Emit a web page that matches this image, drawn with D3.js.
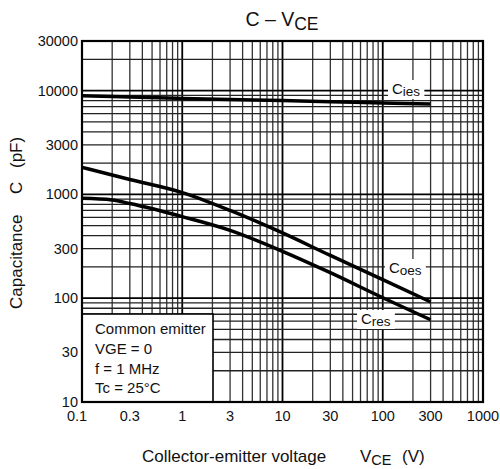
<!DOCTYPE html>
<html>
<head>
<meta charset="utf-8">
<script src="https://cdn.jsdelivr.net/npm/d3@7/dist/d3.min.js"></script>
<style>
  html, body { margin: 0; padding: 0; background: #fff; }
  svg { display: block; }
  text { font-family: "Liberation Sans", Arial, Helvetica, sans-serif; fill: #111; }
</style>
</head>
<body>
<svg id="chart" width="500" height="469"></svg>
<script>
// Collector-emitter voltage (V) at which capacitances were read
const vce  = [0.1, 0.2, 0.3, 1, 3, 10, 30, 100, 300];
// Input, output and reverse-transfer capacitance (pF)
const cies = [8900, 8750, 8650, 8400, 8200, 8000, 7800, 7600, 7400];
const coes = [1820, 1535, 1390, 1040, 700, 425, 258, 151, 92];
const cres = [915, 883, 815, 610, 450, 283, 176, 101, 62];

const xTicks = [0.1, 0.3, 1, 3, 10, 30, 100, 300, 1000];
const xTickLabels = ["0.1", "0.3", "1", "3", "10", "30", "100", "300", "1000"];
const yTicks = [10, 30, 100, 300, 1000, 3000, 10000, 30000];
const yTickLabels = ["10", "30", "100", "300", "1000", "3000", "10000", "30000"];

const conditions = ["Common emitter", "VGE = 0", "f = 1 MHz", "Tc = 25°C"];

const svg = d3.select("#chart");
const plot = { left: 82, right: 483, top: 41, bottom: 402 };

const x = d3.scaleLog().domain([0.1, 1000]).range([plot.left, plot.right]);
const y = d3.scaleLog().domain([10, 30000]).range([plot.bottom, plot.top]);

// log grid: every 1..9 x 10^n inside the domain
function logGrid(lo, hi) {
  const out = [];
  for (let e = -2; e <= 5; e++) {
    for (let k = 1; k <= 9; k++) {
      const v = k * Math.pow(10, e);
      if (v > lo * 1.0001 && v < hi * 0.9999) out.push({ v, major: k === 1 });
    }
  }
  return out;
}

const grid = svg.append("g");
grid.selectAll("line.vx").data(logGrid(0.1, 1000)).join("line")
  .attr("x1", d => x(d.v)).attr("x2", d => x(d.v))
  .attr("y1", plot.top).attr("y2", plot.bottom)
  .attr("stroke", d => d.major ? "#000" : "#333")
  .attr("stroke-width", d => d.major ? 1.8 : 1.3);
grid.selectAll("line.hy").data(logGrid(10, 30000)).join("line")
  .attr("x1", plot.left).attr("x2", plot.right)
  .attr("y1", d => y(d.v)).attr("y2", d => y(d.v))
  .attr("stroke", d => d.major ? "#000" : "#222")
  .attr("stroke-width", d => d.major ? 1.8 : 1.3);

// curve labels with white backing
function curveLabel(cx, cy, main, sub) {
  const g = svg.append("g");
  const t = g.append("text").attr("x", cx).attr("y", cy).attr("font-size", 15);
  t.append("tspan").text(main);
  t.append("tspan").attr("dy", 2).attr("font-size", 13.5).text(sub);
  const bb = t.node().getBBox();
  g.insert("rect", "text")
    .attr("x", bb.x - 4).attr("y", bb.y)
    .attr("width", bb.width + 8).attr("height", bb.height)
    .attr("fill", "#fff");
  return g;
}

// curves
const line = d3.line().x(d => x(d[0])).y(d => y(d[1])).curve(d3.curveMonotoneX);
[cies, coes, cres].forEach(series => {
  svg.append("path")
    .datum(vce.map((v, i) => [v, series[i]]))
    .attr("d", line)
    .attr("fill", "none")
    .attr("stroke", "#000")
    .attr("stroke-width", 3.5)
    .attr("stroke-linecap", "butt");
});

curveLabel(392, 94, "C", "ies");
curveLabel(389, 273, "C", "oes");
curveLabel(361, 324, "C", "res");

// conditions box
svg.append("rect")
  .attr("x", plot.left).attr("y", 314)
  .attr("width", 131).attr("height", plot.bottom - 314)
  .attr("fill", "#fff").attr("stroke", "#000").attr("stroke-width", 1.6);
svg.append("g").selectAll("text").data(conditions).join("text")
  .attr("x", 95).attr("y", (d, i) => 334 + i * 19.8)
  .attr("font-size", 15)
  .text(d => d);

// frame
svg.append("rect")
  .attr("x", plot.left).attr("y", plot.top)
  .attr("width", plot.right - plot.left).attr("height", plot.bottom - plot.top)
  .attr("fill", "none").attr("stroke", "#000").attr("stroke-width", 2.2);

// axes tick labels
svg.append("g").selectAll("text").data(yTicks).join("text")
  .attr("x", 78).attr("y", d => y(d) + 5)
  .attr("text-anchor", "end").attr("font-size", 14.5)
  .text((d, i) => yTickLabels[i]);
svg.append("g").selectAll("text").data(xTicks).join("text")
  .attr("x", (d, i) => x(d) - (i === 0 ? 5 : 0)).attr("y", 421)
  .attr("text-anchor", "middle").attr("font-size", 14.5)
  .text((d, i) => xTickLabels[i]);

// title
const title = svg.append("text").attr("x", 282).attr("y", 26)
  .attr("text-anchor", "middle").attr("font-size", 19.5);
title.append("tspan").text("C – V");
title.append("tspan").attr("dy", 4).attr("font-size", 17.5).text("CE");

// x axis title
const xt = svg.append("text").attr("y", 462).attr("font-size", 17);
xt.append("tspan").attr("x", 142).text("Collector-emitter voltage");
xt.append("tspan").attr("x", 360).text("V");
xt.append("tspan").attr("dy", 3).attr("font-size", 14.5).text("CE");
xt.append("tspan").attr("x", 402).attr("dy", -3).text("(V)");

// y axis title (rotated frame: x' = -y)
const yt = svg.append("text").attr("transform", "translate(22,0) rotate(-90)")
  .attr("font-size", 17);
yt.append("tspan").attr("x", -309).text("Capacitance");
yt.append("tspan").attr("x", -194).text("C");
yt.append("tspan").attr("x", -168).text("(pF)");
</script>
</body>
</html>
